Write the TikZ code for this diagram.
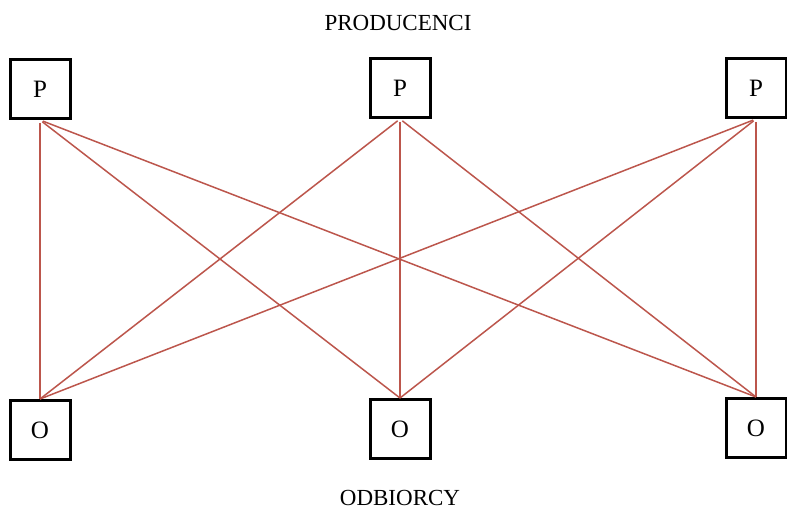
\documentclass[tikz,border=0pt]{standalone}
\usepackage{fontspec}
\setmainfont{Liberation Serif}
\definecolor{linkred}{RGB}{188,86,76}
\begin{document}
\begin{tikzpicture}[x=0.5pt,y=-0.5pt,line width=0.8pt,
  box/.style={draw=black,line width=1.5pt,minimum width=30pt,minimum height=29.5pt,
    inner sep=0pt,font=\fontsize{12.5}{14}\selectfont},
  link/.style={draw=linkred,line width=0.75pt,shorten <=1.5pt},
  every node/.style={font=\fontsize{11.5}{13}\selectfont}]
 \useasboundingbox (0,0) rectangle (787,508);
 \node[box] (p1) at (40,89) {P};
 \node[box] (p2) at (400,88) {P};
 \node[box] (p3) at (756,88) {P};
 \node[box] (o1) at (40,430) {O};
 \node[box] (o2) at (400,429) {O};
 \node[box] (o3) at (756,428) {O};
 \foreach \i in {1,2,3}
  \foreach \j in {1,2,3}
   \draw[link] (p\i.south) -- (o\j.north);
 \node (prod) at (398,23) {PRODUCENCI};
 \node (odb) at (400,498) {ODBIORCY};
\end{tikzpicture}
\end{document}
